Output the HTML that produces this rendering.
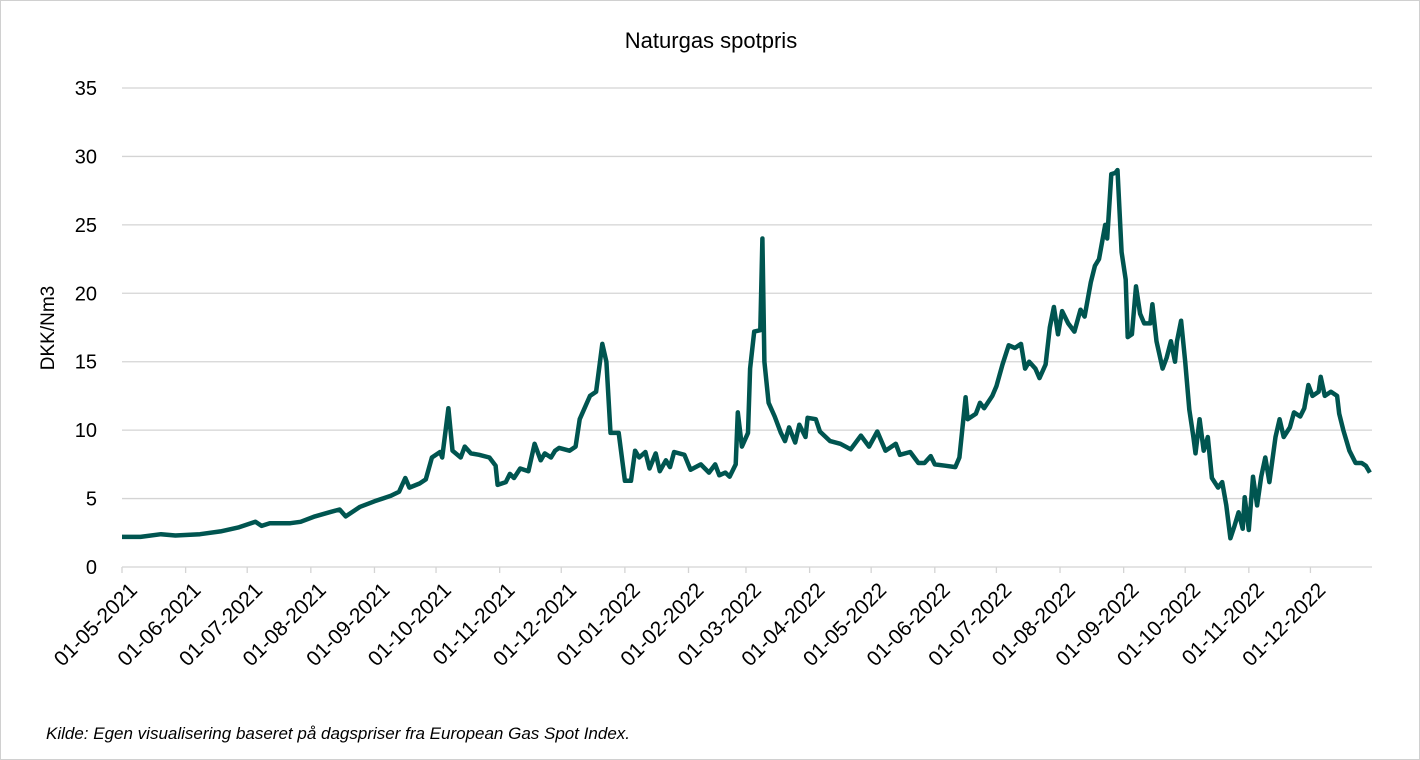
<!DOCTYPE html>
<html><head><meta charset="utf-8"><style>
body{margin:0;background:#fff;}
svg{display:block;font-family:"Liberation Sans",sans-serif;}
</style></head><body>
<svg id="chart" width="1420" height="760">
<rect x="0.5" y="0.5" width="1419" height="759" fill="#fff" stroke="#d0d0d0"/>
<text x="711" y="48" text-anchor="middle" font-size="22" fill="#000">Naturgas spotpris</text>
<text transform="translate(54,328) rotate(-90)" text-anchor="middle" font-size="19" fill="#000">DKK/Nm3</text>
<text x="46" y="739" font-size="17" font-style="italic" fill="#000">Kilde: Egen visualisering baseret på dagspriser fra European Gas Spot Index.</text>
<g id="grid"></g><g id="xaxis"></g><g id="plot"></g>
</svg>
<script>
const yTicks=[0,5,10,15,20,25,30,35];
const xTickLabels=["01-05-2021","01-06-2021","01-07-2021","01-08-2021","01-09-2021","01-10-2021","01-11-2021","01-12-2021","01-01-2022","01-02-2022","01-03-2022","01-04-2022","01-05-2022","01-06-2022","01-07-2022","01-08-2022","01-09-2022","01-10-2022","01-11-2022","01-12-2022"];
const xTickDays=[0,31,61,92,123,153,184,214,245,276,304,335,365,396,426,457,488,518,549,579];
const days=[0,9,19,26,38,48,57,65,68,72,82,87,94,101,106,109,116,123,131,135,138,140,145,148,151,155,156,159,161,165,167,170,174,179,182,183,187,189,191,194,198,201,204,206,209,211,213,218,221,223,228,231,234,236,238,242,245,248,250,252,255,257,260,262,265,267,269,274,277,282,286,289,291,294,296,299,300,302,305,306,308,311,312,313,315,318,321,323,325,328,330,333,334,338,340,345,350,355,360,364,368,372,377,379,384,388,391,394,396,401,406,408,411,412,416,418,420,424,426,429,432,435,438,440,442,445,447,450,452,454,456,458,461,464,467,469,472,474,476,479,480,482,484,485,487,489,490,492,494,496,498,501,502,504,507,509,511,513,514,516,518,520,522,523,525,527,529,531,534,536,538,540,542,544,546,547,549,551,553,555,557,559,562,564,566,569,571,574,576,578,580,583,584,586,589,592,593,595,598,601,604,606,608];
const prices=[2.2,2.2,2.4,2.3,2.4,2.6,2.9,3.3,3.0,3.2,3.2,3.3,3.7,4.0,4.2,3.7,4.4,4.8,5.2,5.5,6.5,5.8,6.1,6.4,8.0,8.4,8.0,11.6,8.5,8.0,8.8,8.3,8.2,8.0,7.4,6.0,6.2,6.8,6.5,7.2,7.0,9.0,7.8,8.3,8.0,8.5,8.7,8.5,8.8,10.8,12.5,12.8,16.3,15.0,9.8,9.8,6.3,6.3,8.5,8.0,8.4,7.2,8.3,7.0,7.8,7.3,8.4,8.2,7.1,7.5,6.9,7.5,6.7,6.9,6.6,7.5,11.3,8.8,9.8,14.5,17.2,17.3,24.0,15.0,12.0,11.0,9.8,9.2,10.2,9.1,10.4,9.5,10.9,10.8,9.9,9.2,9.0,8.6,9.6,8.8,9.9,8.5,9.0,8.2,8.4,7.6,7.6,8.1,7.5,7.4,7.3,8.0,12.4,10.8,11.2,12.0,11.6,12.5,13.2,14.8,16.2,16.0,16.3,14.5,15.0,14.5,13.8,14.8,17.5,19.0,17.0,18.7,17.8,17.2,18.8,18.3,20.8,22.0,22.5,25.0,24.0,28.7,28.8,29.0,23.0,21.0,16.8,17.0,20.5,18.5,17.8,17.8,19.2,16.5,14.5,15.3,16.5,15.0,16.5,18.0,15.0,11.5,9.5,8.3,10.8,8.5,9.5,6.5,5.8,6.2,4.5,2.1,3.0,4.0,2.8,5.1,2.7,6.6,4.5,6.6,8.0,6.2,9.5,10.8,9.5,10.2,11.3,11.0,11.6,13.3,12.5,12.8,13.9,12.5,12.8,12.5,11.2,10.0,8.5,7.6,7.6,7.4,6.9];
const X0=122,X1=1372,DMAX=609,Y0=567,Y35=88;
const xs=d=>X0+(X1-X0)*d/DMAX;
const ys=v=>Y0-(Y0-Y35)*v/35;
const NS="http://www.w3.org/2000/svg";
const grid=document.getElementById('grid'),xa=document.getElementById('xaxis'),plot=document.getElementById('plot');
yTicks.forEach(t=>{
  if(t>0){const l=document.createElementNS(NS,'line');
  l.setAttribute('x1',X0);l.setAttribute('x2',X1);l.setAttribute('y1',ys(t));l.setAttribute('y2',ys(t));
  l.setAttribute('stroke','#d4d4d4');l.setAttribute('stroke-width','1.3');
  
  
  grid.appendChild(l);}
  const tx=document.createElementNS(NS,'text');
  tx.setAttribute('x',97);tx.setAttribute('y',ys(t)+7);tx.setAttribute('text-anchor','end');tx.setAttribute('font-size','20');
  tx.textContent=t;
  
  
  grid.appendChild(tx);
});
const ax=document.createElementNS(NS,'line');
ax.setAttribute('x1',X0);ax.setAttribute('x2',X1);ax.setAttribute('y1',Y0);ax.setAttribute('y2',Y0);ax.setAttribute('stroke','#d4d4d4');ax.setAttribute('stroke-width','1.3');


xa.appendChild(ax);
xTickLabels.forEach((lab,i)=>{
  const x=xs(xTickDays[i]);
  const tk=document.createElementNS(NS,'line');
  tk.setAttribute('x1',x);tk.setAttribute('x2',x);tk.setAttribute('y1',Y0);tk.setAttribute('y2',Y0+6);tk.setAttribute('stroke','#d4d4d4');tk.setAttribute('stroke-width','1.3');
  
  
  xa.appendChild(tk);
  const t=document.createElementNS(NS,'text');
  t.setAttribute('transform','translate('+(x+6)+','+(Y0+14)+') rotate(-45)');
  t.setAttribute('text-anchor','end');t.setAttribute('font-size','21');t.setAttribute('dy','0.7em');
  t.textContent=lab;
  
  
  xa.appendChild(t);
});
const p=document.createElementNS(NS,'path');
p.setAttribute('d',days.map((d,i)=>(i?'L':'M')+xs(d).toFixed(1)+','+ys(prices[i]).toFixed(1)).join(''));
p.setAttribute('fill','none');p.setAttribute('stroke','#005550');p.setAttribute('stroke-width','4.5');p.setAttribute('stroke-linejoin','round');


plot.appendChild(p);
</script>
</body></html>
